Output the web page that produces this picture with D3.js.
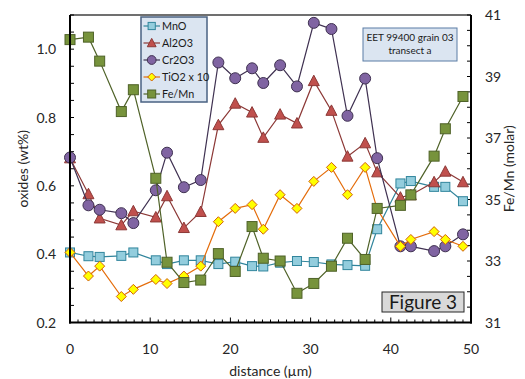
<!DOCTYPE html>
<html><head><meta charset="utf-8">
<script src="https://cdn.jsdelivr.net/npm/d3@7"></script>
<style>body{margin:0;background:#fff}svg{display:block;font-family:Lato,"Open Sans",sans-serif}</style>
</head><body><svg id="c" width="525" height="379"></svg>
<script>
const distance = [0, 2.3, 3.7, 6.4, 7.9, 10.7, 12.1, 14.2, 16.3, 18.5, 20.6, 22.7, 24.1, 26.2, 28.3, 30.4, 32.6, 34.6, 36.8, 38.3, 41.2, 42.5, 45.4, 46.8, 49.0];
const MnO   = [0.405, 0.394, 0.392, 0.395, 0.405, 0.382, 0.371, 0.382, 0.382, 0.371, 0.378, 0.365, 0.364, 0.375, 0.380, 0.377, 0.370, 0.368, 0.366, 0.473, 0.607, 0.614, 0.597, 0.597, 0.555];
const Al2O3 = [0.681, 0.576, 0.505, 0.485, 0.526, 0.508, 0.570, 0.477, 0.524, 0.778, 0.841, 0.815, 0.741, 0.809, 0.783, 0.907, 0.820, 0.686, 0.725, 0.640, 0.566, 0.573, 0.611, 0.642, 0.611];
const Cr2O3 = [0.683, 0.543, 0.530, 0.520, 0.491, 0.587, 0.697, 0.596, 0.617, 0.961, 0.915, 0.944, 0.901, 0.953, 0.891, 1.077, 1.059, 0.805, 0.914, 0.681, 0.423, 0.423, 0.409, 0.423, 0.458];
const TiO2x10 = [0.405, 0.336, 0.365, 0.276, 0.297, 0.326, 0.314, 0.336, 0.365, 0.495, 0.534, 0.545, 0.473, 0.574, 0.534, 0.613, 0.654, 0.574, 0.654, 0.532, 0.423, 0.443, 0.466, 0.443, 0.423];
const FeMn  = [40.2, 40.28, 39.5, 37.86, 38.57, 35.69, 32.96, 32.30, 32.38, 33.24, 32.66, 34.12, 33.09, 33.00, 31.95, 32.27, 32.83, 33.74, 33.05, 34.71, 34.81, 35.15, 36.41, 37.30, 38.35];
const xTicks = [0, 10, 20, 30, 40, 50];
const yLeftTicks = [0.2, 0.4, 0.6, 0.8, 1.0];
const yRightTicks = [31, 33, 35, 37, 39, 41];
const seriesNames = ["MnO", "Al2O3", "Cr2O3", "TiO2 x 10", "Fe/Mn"];
const annotationLines = ["EET 99400 grain 03", "transect a"];
const figureLabel = "Figure 3";

const svg = d3.select("#c");
const L = 70, R = 471, T = 15, B = 322.5;
const x = d3.scaleLinear().domain([0, 50]).range([L, R]);
const yL = d3.scaleLinear().domain([0.2, 1.1]).range([B, T]);
const yR = d3.scaleLinear().domain([31, 41]).range([B, T]);

const styles = [
  {name: seriesNames[0], vals: MnO, y: yL, shape: "square", size: 9, fill: "#93cddd", stroke: "#31859c", line: "#31859c"},
  {name: seriesNames[1], vals: Al2O3, y: yL, shape: "triangle", size: 11, fill: "#c0504d", stroke: "#8c3836", line: "#8c3836"},
  {name: seriesNames[2], vals: Cr2O3, y: yL, shape: "circle", size: 11, fill: "#8064a2", stroke: "#3f3151", line: "#3f3151"},
  {name: seriesNames[3], vals: TiO2x10, y: yL, shape: "diamond", size: 10, fill: "#ffff00", stroke: "#d2600a", line: "#e46c0a"},
  {name: seriesNames[4], vals: FeMn, y: yR, shape: "square", size: 10, fill: "#77933c", stroke: "#4f6228", line: "#4f6228"}
];

function drawMarker(g, s, cx, cy, scale) {
  const k = scale || 1, h = s.size * k / 2;
  let el;
  if (s.shape === "square") el = g.append("rect").attr("x", cx - h).attr("y", cy - h).attr("width", 2*h).attr("height", 2*h);
  else if (s.shape === "circle") el = g.append("circle").attr("cx", cx).attr("cy", cy).attr("r", h);
  else if (s.shape === "triangle") el = g.append("path").attr("d", `M${cx},${cy-h*1.05}L${cx+h},${cy+h*0.85}L${cx-h},${cy+h*0.85}Z`);
  else el = g.append("path").attr("d", `M${cx},${cy-h}L${cx+h},${cy}L${cx},${cy+h}L${cx-h},${cy}Z`);
  el.attr("fill", s.fill).attr("stroke", s.stroke).attr("stroke-width", 1);
}

// frame
svg.append("line").attr("x1", L).attr("x2", R).attr("y1", T).attr("y2", T).attr("stroke", "#404040").attr("stroke-width", 1.5);

// ticks
const tg = svg.append("g").attr("stroke", "#000").attr("stroke-width", 1);
d3.range(0, 51, 1).forEach(v => {
  const len = v % 10 === 0 ? 5 : 3;
  tg.append("line").attr("x1", x(v)).attr("x2", x(v)).attr("y1", B).attr("y2", B - len);
});
d3.range(0, 19).forEach(i => {
  const v = 0.2 + i * 0.05;
  tg.append("line").attr("x1", L).attr("x2", L + 4).attr("y1", yL(v)).attr("y2", yL(v));
});
d3.range(0, 21).forEach(i => {
  const v = 31 + i * 0.5;
  tg.append("line").attr("x1", R).attr("x2", R - 4).attr("y1", yR(v)).attr("y2", yR(v));
});

// series
styles.forEach(s => {
  const pts = distance.map((d, i) => [x(d), s.y(s.vals[i])]);
  svg.append("path").attr("d", d3.line()(pts)).attr("fill", "none").attr("stroke", s.line).attr("stroke-width", 1.2);
  const g = svg.append("g");
  pts.forEach(p => drawMarker(g, s, p[0], p[1]));
});

// axes lines
svg.append("line").attr("x1", L).attr("x2", L).attr("y1", T).attr("y2", B + 1).attr("stroke", "#000").attr("stroke-width", 2);
svg.append("line").attr("x1", R).attr("x2", R).attr("y1", T).attr("y2", B + 1).attr("stroke", "#000").attr("stroke-width", 2);
svg.append("line").attr("x1", L - 1).attr("x2", R + 1).attr("y1", B).attr("y2", B).attr("stroke", "#000").attr("stroke-width", 2);

// tick labels
const fs = 14, col = "#262626";
svg.append("g").selectAll("text").data(xTicks).join("text")
  .attr("x", d => x(d)).attr("y", 354).attr("text-anchor", "middle").attr("font-size", fs).attr("fill", col).text(d => d);
svg.append("g").selectAll("text").data(yLeftTicks).join("text")
  .attr("x", 56).attr("y", d => yL(d) + 5).attr("text-anchor", "end").attr("font-size", fs).attr("fill", col).text(d => d.toFixed(1));
svg.append("g").selectAll("text").data(yRightTicks).join("text")
  .attr("x", 485).attr("y", d => yR(d) + 5).attr("text-anchor", "start").attr("font-size", fs).attr("fill", col).text(d => d);

// axis titles
svg.append("text").attr("x", (L + R) / 2).attr("y", 376).attr("text-anchor", "middle").attr("font-size", fs).attr("fill", col).text("distance (µm)");
svg.append("text").attr("transform", `translate(28,${(T + B) / 2}) rotate(-90)`).attr("text-anchor", "middle").attr("font-size", fs).attr("fill", col).text("oxides (wt%)");
svg.append("text").attr("transform", `translate(503,${(T + B) / 2}) rotate(-90)`).attr("text-anchor", "middle").attr("dominant-baseline", "hanging").attr("font-size", fs).attr("fill", col).text("Fe/Mn (molar)");

// legend
const lg = svg.append("g");
lg.append("rect").attr("x", 141).attr("y", 17).attr("width", 66).attr("height", 85).attr("fill", "#dbe5f1").attr("stroke", "#4a6282").attr("stroke-width", 1.5);
styles.forEach((s, i) => {
  const cy = 26 + i * 17;
  lg.append("line").attr("x1", 143.5).attr("x2", 160).attr("y1", cy).attr("y2", cy).attr("stroke", s.line).attr("stroke-width", 1.2);
  drawMarker(lg, s, 151.7, cy, 0.8);
  lg.append("text").attr("x", 162).attr("y", cy + 4).attr("font-size", 10.8).attr("fill", "#1a1a1a").text(s.name);
});

// annotation box
const ag = svg.append("g");
ag.append("rect").attr("x", 363).attr("y", 28).attr("width", 94).attr("height", 33).attr("fill", "#dbe5f1").attr("stroke", "#5b7da5").attr("stroke-width", 1);
annotationLines.forEach((t, i) => {
  ag.append("text").attr("x", 410).attr("y", 41 + i * 13).attr("text-anchor", "middle").attr("font-size", 10).attr("fill", "#1a1a1a").text(t);
});

// figure label
svg.append("rect").attr("x", 382).attr("y", 292).attr("width", 82).attr("height", 20).attr("fill", "#d9d9d9").attr("stroke", "#262626").attr("stroke-width", 1);
svg.append("text").attr("x", 423).attr("y", 309).attr("text-anchor", "middle").attr("font-size", 19).attr("fill", "#1a1a1a").text(figureLabel);
</script></body></html>
